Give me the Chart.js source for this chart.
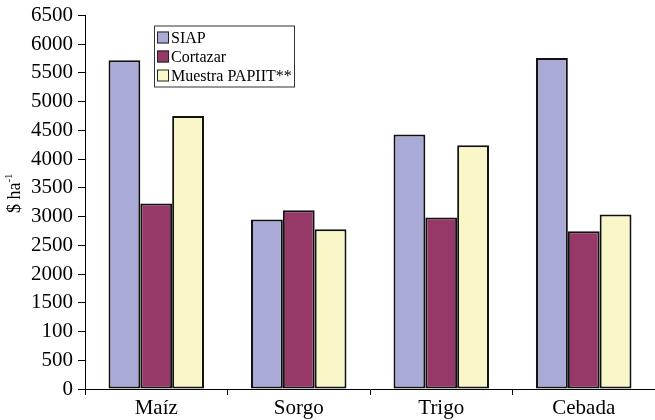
<!DOCTYPE html>
<html>
<head>
<meta charset="utf-8">
<script src="https://cdn.jsdelivr.net/npm/chart.js@4.4.0/dist/chart.umd.min.js"></script>
<style>
  html, body { margin: 0; padding: 0; background: #fff; }
  #wrap { width: 655px; height: 420px; }
</style>
</head>
<body>
<div id="wrap"><canvas id="chart1"></canvas></div>
<script>
// data
const cultivos = ["Maíz", "Sorgo", "Trigo", "Cebada"];
const siap = [5720, 2950, 4430, 5760];
const cortazar = [3230, 3110, 2985, 2745];
const muestra = [4750, 2780, 4240, 3035];
const seriesNames = ["SIAP", "Cortazar", "Muestra PAPIIT**"];
// the original shows "100" where 1000 should be
const yTickLabels = ["0", "500", "100", "1500", "2000", "2500", "3000", "3500", "4000", "4500", "5000", "5500", "6000", "6500"];

const colores = ["#a9abd6", "#963868", "#f9f7c8"];
const serif = "'Liberation Serif', 'Times New Roman', serif";

// box legend drawn inside the plot, like the original
const boxLegend = {
    id: "boxLegend",
    afterDraw(chart) {
        const ctx = chart.ctx;
        const area = chart.chartArea;
        const x = area.left + 69, y = area.top + 10;
        const w = 140, h = 61;
        ctx.save();
        ctx.fillStyle = "#fff";
        ctx.fillRect(x, y, w, h);
        ctx.strokeStyle = "#333";
        ctx.lineWidth = 1;
        ctx.strokeRect(x + 0.5, y + 0.5, w, h);
        ctx.font = "16px " + serif;
        ctx.textBaseline = "middle";
        chart.data.datasets.forEach(function (ds, i) {
            const cy = y + 12 + i * 19;
            ctx.fillStyle = ds.backgroundColor;
            ctx.fillRect(x + 3, cy - 6, 12, 12);
            ctx.strokeStyle = "#222";
            ctx.strokeRect(x + 3.5, cy - 5.5, 11, 11);
            ctx.fillStyle = "#000";
            ctx.fillText(ds.label, x + 17, cy + 1);
        });
        ctx.restore();
    }
};

// rotated y title with superscript
const yTitle = {
    id: "yTitle",
    afterDraw(chart) {
        const ctx = chart.ctx;
        const area = chart.chartArea;
        ctx.save();
        ctx.translate(15, (area.top + area.bottom) / 2 - 9);
        ctx.rotate(-Math.PI / 2);
        ctx.fillStyle = "#000";
        ctx.textBaseline = "middle";
        ctx.font = "18px " + serif;
        const main = "$ ha";
        const wMain = ctx.measureText(main).width;
        ctx.font = "11px " + serif;
        const wSup = ctx.measureText("-1").width;
        let sx = -(wMain + wSup) / 2;
        ctx.font = "18px " + serif;
        ctx.fillText(main, sx, 0);
        ctx.font = "11px " + serif;
        ctx.fillText("-1", sx + wMain, -6);
        ctx.restore();
    }
};

const datasets = [siap, cortazar, muestra].map(function (vals, i) {
    return {
        label: seriesNames[i],
        data: vals,
        backgroundColor: colores[i],
        borderColor: "#111",
        borderWidth: 2,
        borderSkipped: false,
        categoryPercentage: 0.67,
        barPercentage: 1.0
    };
});

new Chart(document.getElementById("chart1"), {
    type: "bar",
    data: { labels: cultivos, datasets: datasets },
    options: {
        responsive: true,
        maintainAspectRatio: false,
        animation: false,
        layout: { padding: { top: 15, right: 0, left: 0, bottom: 0 } },
        plugins: {
            legend: { display: false },
            tooltip: { enabled: false }
        },
        scales: {
            x: {
                border: { color: "#000", width: 1 },
                grid: { display: true, drawOnChartArea: false, drawTicks: true, tickLength: 6, color: "#000", offset: true },
                ticks: { color: "#000", font: { family: serif, size: 21 }, padding: 1 },
                afterFit: function (scale) { scale.height = 31; }
            },
            y: {
                min: 0,
                max: 6500,
                border: { color: "#000", width: 1 },
                grid: { display: true, drawOnChartArea: false, drawTicks: true, tickLength: 7, color: "#000" },
                ticks: {
                    stepSize: 500,
                    color: "#000",
                    font: { family: serif, size: 21, lineHeight: 1 },
                    padding: 5,
                    callback: function (value, index) { return yTickLabels[index]; }
                },
                afterFit: function (scale) { scale.width = 85; }
            }
        }
    },
    plugins: [boxLegend, yTitle]
});
</script>
</body>
</html>
